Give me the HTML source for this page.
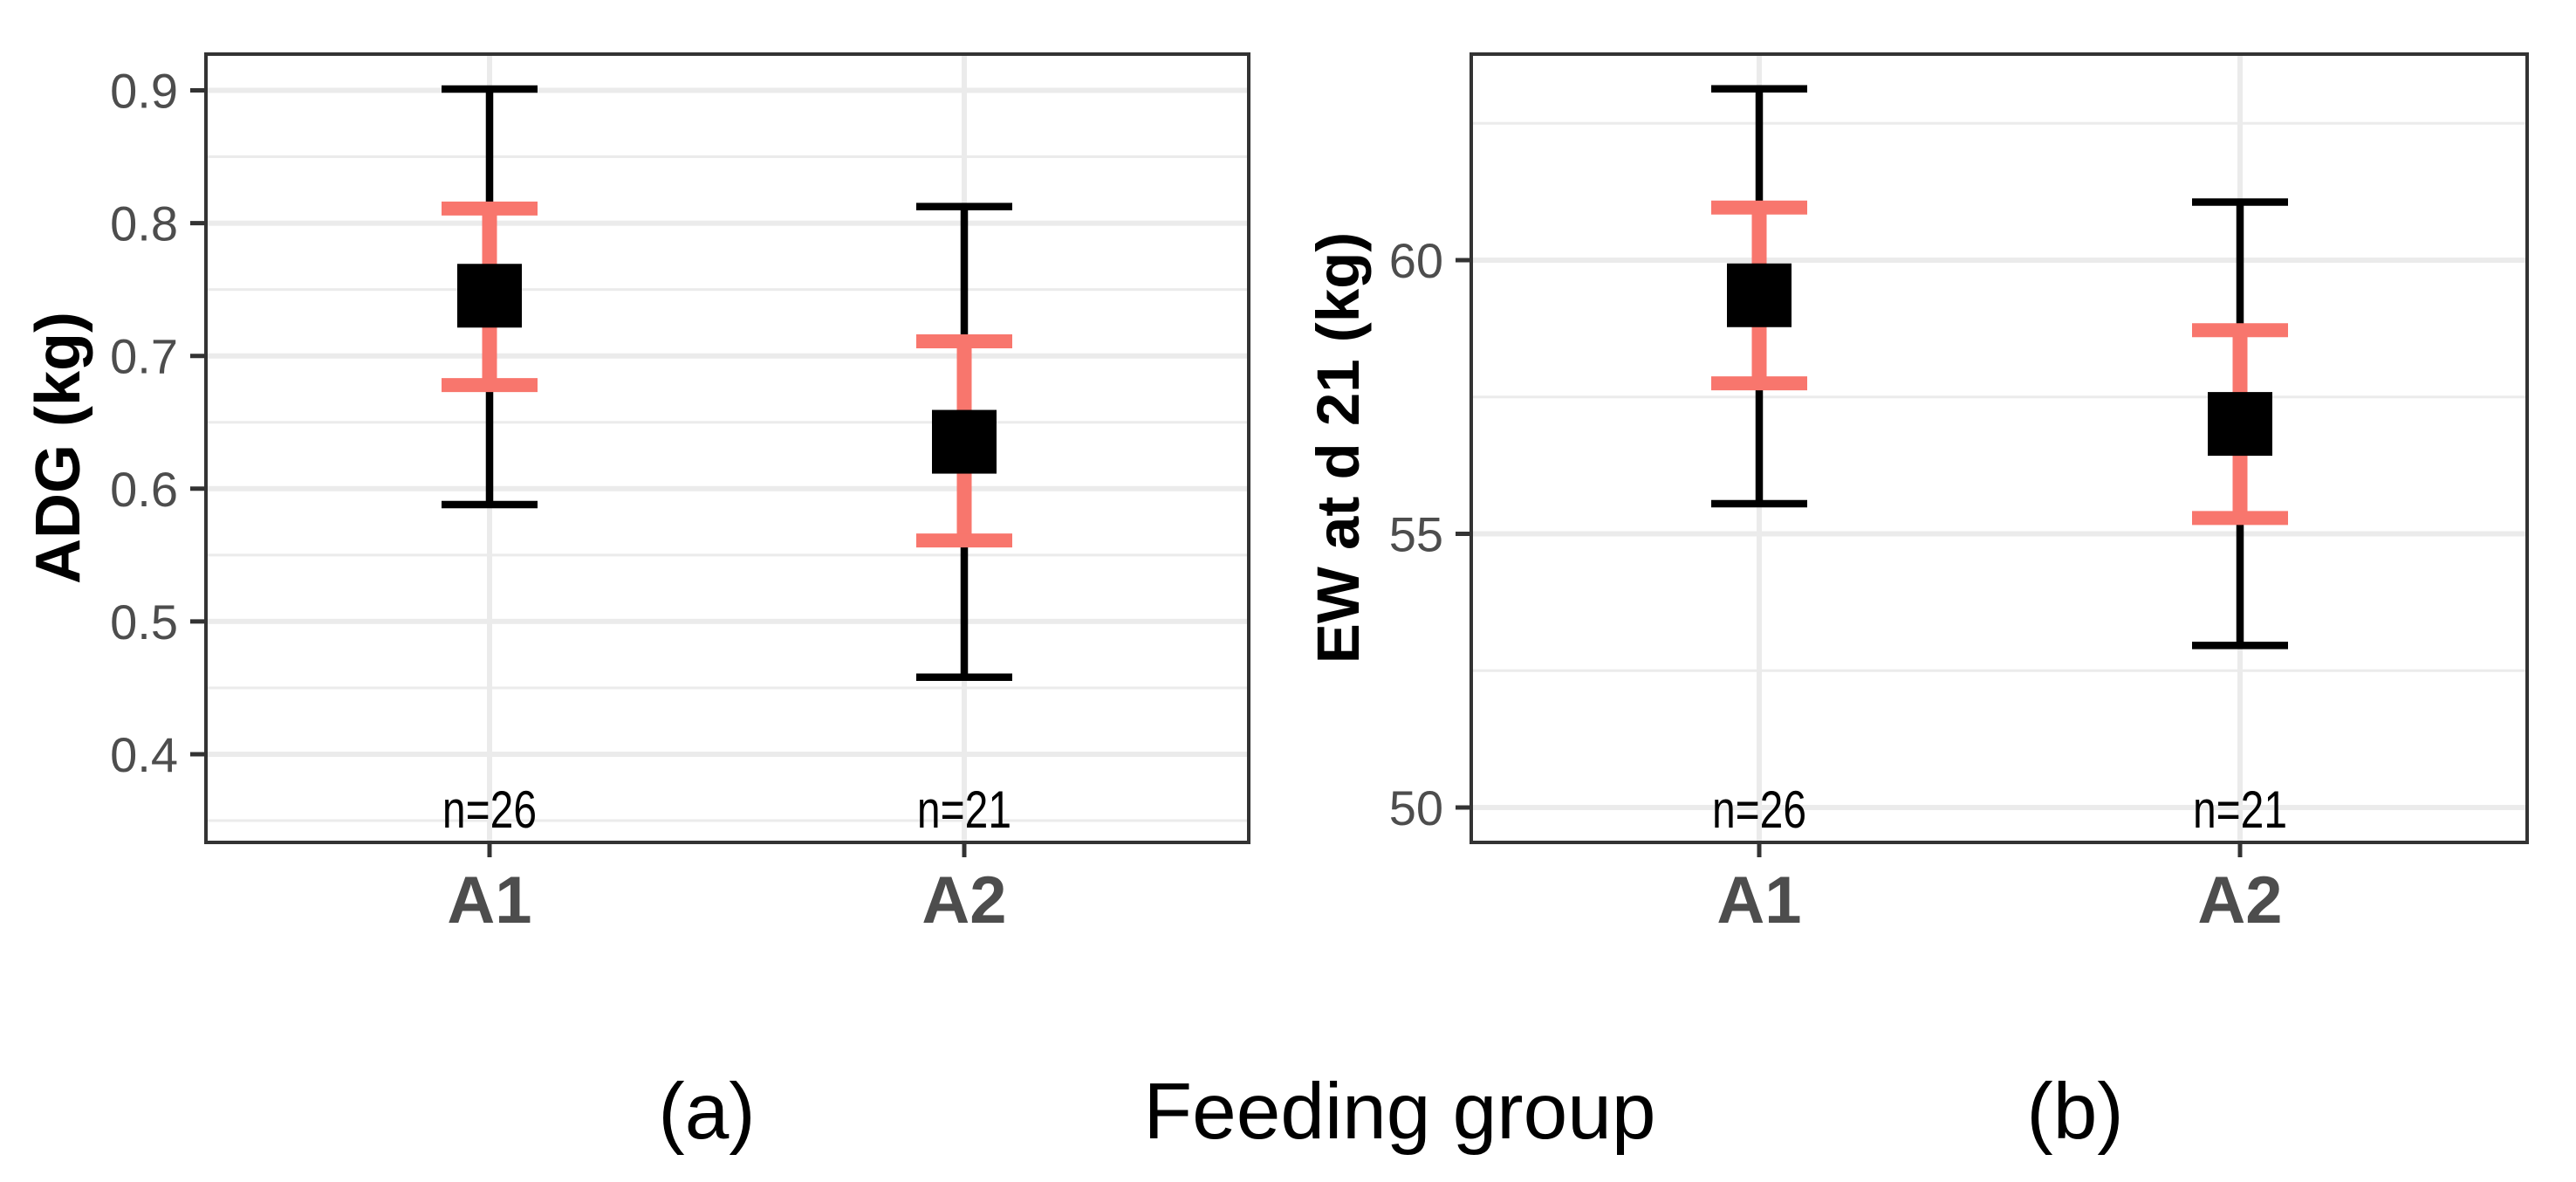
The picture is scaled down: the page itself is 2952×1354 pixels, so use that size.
<!DOCTYPE html>
<html><head><meta charset="utf-8"><style>
html,body{margin:0;padding:0;background:#fff;}
svg{display:block;font-family:"Liberation Sans",Arial,sans-serif;}
</style></head><body>
<svg id="chart" width="2952" height="1354" viewBox="0 0 2952 1354"></svg>
<script>
const groups = ["A1","A2"];
const nLabels = ["n=26","n=21"];
// panel a (ADG)
const aMean = [0.745, 0.635];
const aCiLo = [0.678, 0.561];
const aCiHi = [0.811, 0.711];
const aSdLo = [0.588, 0.458];
const aSdHi = [0.901, 0.8125];
const aTicks = [0.4, 0.5, 0.6, 0.7, 0.8, 0.9];
const aTickLabels = ["0.4","0.5","0.6","0.7","0.8","0.9"];
const aMinor = [0.35, 0.45, 0.55, 0.65, 0.75, 0.85];
// panel b (EW)
const bMean = [59.35, 57.0];
const bCiLo = [57.75, 55.29];
const bCiHi = [60.96, 58.72];
const bSdLo = [55.55, 52.96];
const bSdHi = [63.13, 61.06];
const bTicks = [50, 55, 60];
const bTickLabels = ["50","55","60"];
const bMinor = [52.5, 57.5, 62.5];

const NS = "http://www.w3.org/2000/svg";
const svg = document.getElementById("chart");
function mk(tag, attrs, parent, text){
  const e = document.createElementNS(NS, tag);
  for (const k in attrs) e.setAttribute(k, attrs[k]);
  if (text !== undefined) e.textContent = text;
  (parent || svg).appendChild(e);
  return e;
}

function panel(cfg){
  const g = mk("g", {});
  
  
  const L = cfg.left, R = cfg.right, T = 62, B = 965;
  const y = v => cfg.y0 + (cfg.v0 - v) * cfg.k;
  const x = i => cfg.xs[i];
  cfg.minor.forEach(v => {
    const l = mk("line", {x1:L, x2:R, y1:y(v), y2:y(v), stroke:"#ebebeb", "stroke-width":3}, g);
    
    
  });
  cfg.ticks.forEach(v => {
    const l = mk("line", {x1:L, x2:R, y1:y(v), y2:y(v), stroke:"#ebebeb", "stroke-width":6}, g);
    
    
  });
  groups.forEach((gname, i) => {
    const l = mk("line", {x1:x(i), x2:x(i), y1:T, y2:B, stroke:"#ebebeb", "stroke-width":6}, g);
    
    
  });
  groups.forEach((gname, i) => {
    const cx = x(i);
    const sd = mk("g", {}, g);
    
    
    mk("line", {x1:cx, x2:cx, y1:y(cfg.sdHi[i]), y2:y(cfg.sdLo[i]), stroke:"#000", "stroke-width":8.5}, sd);
    mk("line", {x1:cx-55, x2:cx+55, y1:y(cfg.sdHi[i]), y2:y(cfg.sdHi[i]), stroke:"#000", "stroke-width":8.5}, sd);
    mk("line", {x1:cx-55, x2:cx+55, y1:y(cfg.sdLo[i]), y2:y(cfg.sdLo[i]), stroke:"#000", "stroke-width":8.5}, sd);
    const ci = mk("g", {}, g);
    
    
    mk("line", {x1:cx, x2:cx, y1:y(cfg.ciHi[i]), y2:y(cfg.ciLo[i]), stroke:"#f8766d", "stroke-width":17}, ci);
    mk("line", {x1:cx-55, x2:cx+55, y1:y(cfg.ciHi[i]), y2:y(cfg.ciHi[i]), stroke:"#f8766d", "stroke-width":16}, ci);
    mk("line", {x1:cx-55, x2:cx+55, y1:y(cfg.ciLo[i]), y2:y(cfg.ciLo[i]), stroke:"#f8766d", "stroke-width":16}, ci);
    const sq = mk("rect", {x:cx-37, y:y(cfg.mean[i])-37, width:74, height:73, fill:"#000"}, g);
    
    
    const nt = mk("text", {x:cx, y:948, "font-size":60, "text-anchor":"middle", fill:"#000", transform:`translate(${cx},0) scale(0.8,1) translate(${-cx},0)`}, g, nLabels[i]);
    
    
    mk("line", {x1:cx, x2:cx, y1:B, y2:B+17, stroke:"#333", "stroke-width":5}, g);
    const xl = mk("text", {x:cx, y:1057, "font-size":76, "font-weight":"bold", "text-anchor":"middle", fill:"#4d4d4d"}, g, gname);
    
    
  });
  cfg.ticks.forEach((v, j) => {
    mk("line", {x1:L-18, x2:L, y1:y(v), y2:y(v), stroke:"#333", "stroke-width":5}, g);
    const t = mk("text", {x:L-32, y:y(v)+20, "font-size":56, "text-anchor":"end", fill:"#4d4d4d"}, g, cfg.tickLabels[j]);
    
    
  });
  const box = mk("rect", {x:L, y:T, width:R-L, height:B-T, fill:"none", stroke:"#333", "stroke-width":4}, g);
  
  
  const yt = mk("text", {x:0, y:0, "font-size":cfg.titleSize, "font-weight":"bold", "text-anchor":"middle", fill:"#000", transform:`translate(${cfg.titleX},513) rotate(-90)`}, g, cfg.title);
  
  
}

panel({name:"panel-a", left:236, right:1431, xs:[561,1105], y0:103.5, v0:0.9, k:1521,
  mean:aMean, ciLo:aCiLo, ciHi:aCiHi, sdLo:aSdLo, sdHi:aSdHi,
  ticks:aTicks, tickLabels:aTickLabels, minor:aMinor, title:"ADG (kg)", titleX:91, titleSize:72});
panel({name:"panel-b", left:1686, right:2896, xs:[2016,2567], y0:298, v0:60, k:62.7,
  mean:bMean, ciLo:bCiLo, ciHi:bCiHi, sdLo:bSdLo, sdHi:bSdHi,
  ticks:bTicks, tickLabels:bTickLabels, minor:bMinor, title:"EW at d 21 (kg)", titleX:1557, titleSize:69});

const xt = mk("text", {x:1604, y:1304, "font-size":91, "text-anchor":"middle", fill:"#000"}, svg, "Feeding group");


const la = mk("text", {x:810, y:1304, "font-size":91, "text-anchor":"middle", fill:"#000"}, svg, "(a)");


const lb = mk("text", {x:2378, y:1304, "font-size":91, "text-anchor":"middle", fill:"#000"}, svg, "(b)");


</script>
</body></html>
